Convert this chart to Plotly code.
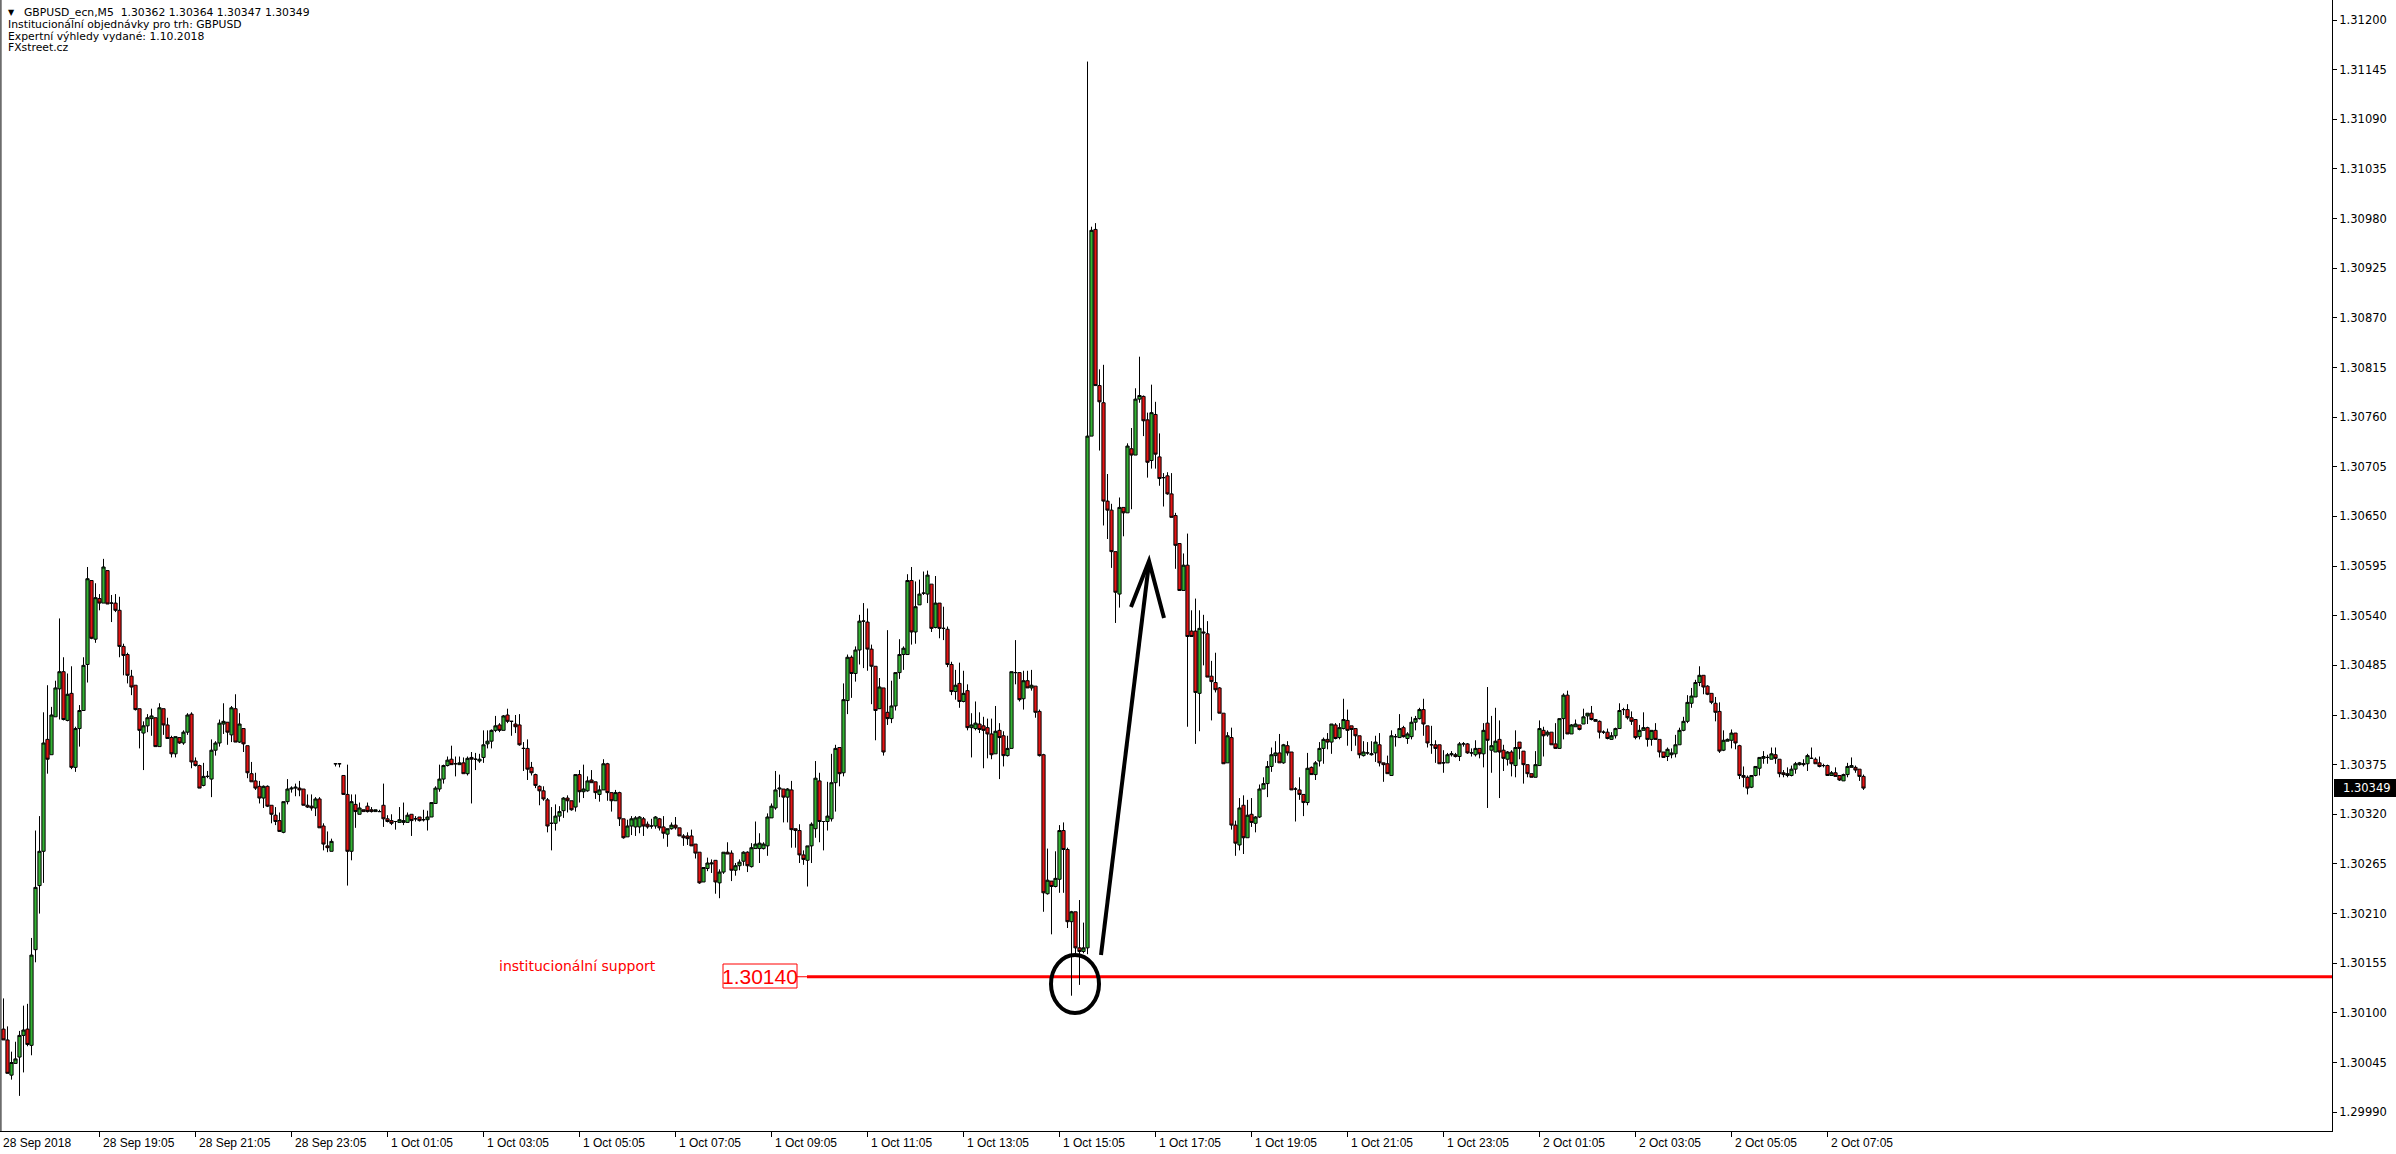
import plotly.graph_objects as go

BASE = 1.29
PT = 1e-5

# (open, high, low, close) in points above 1.29000, M5 bars
fri_bars = [
 (1082,1116,1070,1070),(1070,1085,1033,1033),(1031,1057,1026,1045),(1044,1068,1044,1049),
 (1051,1080,1008,1075),(1075,1108,1034,1081),(1082,1110,1063,1065),(1064,1183,1053,1164),
 (1170,1302,1156,1239),(1241,1318,1210,1279),(1279,1433,1244,1399),(1403,1463,1365,1381),
 (1386,1439,1386,1430),(1428,1468,1428,1460),(1459,1537,1425,1478),(1478,1494,1424,1425),
 (1424,1476,1423,1453),(1454,1484,1370,1372),(1372,1417,1367,1415),(1415,1441,1395,1435),
 (1435,1494,1435,1485),(1486,1594,1466,1581),(1579,1579,1514,1515),(1514,1576,1510,1560),
 (1559,1564,1546,1554),(1554,1603,1554,1594),(1590,1590,1553,1553),(1554,1563,1533,1554),
 (1554,1564,1544,1546),(1546,1561,1494,1506),(1506,1509,1474,1496),(1497,1499,1465,1474),
 (1473,1480,1452,1461),(1463,1463,1435,1436),(1437,1437,1393,1413),(1410,1423,1369,1418),
 (1418,1431,1411,1427),(1426,1437,1407,1429),(1427,1427,1395,1395),(1395,1443,1395,1438),
 (1437,1437,1408,1419),(1419,1427,1404,1404),(1405,1407,1383,1387),(1387,1406,1383,1406),
 (1405,1405,1398,1399),(1399,1413,1397,1411),(1411,1432,1408,1430),(1431,1433,1371,1378),
 (1379,1383,1373,1374),(1374,1375,1349,1349),(1352,1377,1351,1362),(1362,1368,1360,1362),
 (1359,1403,1339,1391),(1391,1401,1385,1399),(1399,1425,1395,1421),(1420,1443,1409,1423),
 (1422,1422,1397,1411),(1408,1440,1400,1438),(1437,1453,1400,1400),(1400,1432,1399,1420),
 (1415,1415,1389,1398),(1396,1396,1360,1366),(1365,1378,1356,1356),(1357,1366,1347,1349),
 (1351,1357,1332,1338),(1338,1352,1327,1351),(1351,1352,1328,1329),(1330,1330,1310,1320),
 (1319,1328,1308,1312),(1313,1322,1301,1301),(1300,1334,1299,1334),(1334,1359,1331,1348),
 (1348,1351,1344,1349),(1349,1354,1340,1350),(1349,1357,1340,1347),(1348,1348,1330,1330),
 (1330,1342,1327,1328),(1329,1342,1324,1327),(1327,1339,1318,1337),(1337,1339,1305,1305),
 (1307,1310,1280,1287),(1285,1301,1278,1283),(1279,1293,1279,1290),
]

mon_asia_bars = [
 (1376,1376,1373,1376),(1376,1376,1372,1376),(1363,1363,1342,1342),(1342,1375,1241,1279),
 (1279,1342,1269,1334),(1331,1342,1305,1323),(1320,1333,1320,1327),(1325,1325,1323,1323),
 (1329,1333,1322,1323),(1325,1328,1322,1323),(1323,1325,1323,1325),(1323,1325,1323,1323),
 (1330,1354,1306,1315),(1315,1319,1311,1312),(1313,1320,1308,1310),(1312,1312,1303,1312),
 (1311,1328,1311,1314),(1311,1333,1308,1313),(1311,1322,1311,1319),(1320,1320,1296,1313),
 (1315,1318,1312,1315),(1317,1317,1312,1313),(1314,1325,1312,1314),(1314,1324,1302,1317),
 (1317,1333,1317,1333),(1332,1351,1332,1349),(1348,1375,1345,1359),(1359,1375,1354,1374),
 (1374,1384,1373,1380),(1381,1396,1375,1375),(1376,1384,1362,1376),(1375,1384,1375,1377),
 (1377,1383,1365,1365),(1365,1384,1363,1382),(1383,1389,1332,1381),(1381,1388,1369,1381),
 (1379,1387,1377,1381),(1383,1413,1377,1397),(1398,1413,1393,1401),(1401,1414,1393,1413),
 (1413,1429,1411,1418),(1419,1421,1411,1413),(1413,1430,1413,1429),
]

mon_europe_bars = [
 (1430,1437,1421,1423),(1423,1423,1407,1423),(1420,1430,1410,1417),(1419,1431,1396,1397),
 (1393,1400,1368,1393),(1393,1403,1358,1370),(1372,1378,1363,1366),(1364,1365,1349,1352),
 (1351,1352,1330,1346),(1346,1351,1335,1337),(1336,1338,1300,1307),(1310,1328,1280,1310),
 (1310,1331,1302,1318),(1318,1329,1312,1323),(1324,1339,1316,1338),(1338,1341,1322,1335),
 (1335,1335,1324,1325),(1328,1364,1323,1364),(1364,1369,1333,1345),(1345,1375,1338,1348),
 (1346,1362,1345,1357),(1358,1369,1355,1355),(1356,1356,1337,1344),(1342,1352,1334,1347),
 (1347,1381,1347,1376),(1376,1377,1335,1344),(1344,1344,1323,1335),(1335,1347,1335,1344),
 (1344,1345,1307,1315),(1315,1315,1293,1294),(1295,1314,1295,1307),(1307,1318,1297,1315),
 (1306,1318,1296,1316),(1306,1318,1299,1317),(1315,1317,1296,1307),(1309,1312,1304,1306),
 (1307,1315,1304,1307),(1307,1318,1304,1317),(1315,1316,1302,1305),(1306,1318,1293,1299),
 (1298,1304,1284,1304),(1304,1311,1303,1308),(1308,1317,1303,1305),(1305,1305,1296,1296),
 (1296,1298,1285,1294),(1296,1300,1286,1293),(1296,1303,1285,1285),(1287,1287,1271,1277),
 (1278,1278,1243,1244),(1245,1261,1245,1261),(1260,1272,1257,1266),(1265,1270,1255,1266),
 (1269,1269,1232,1245),(1244,1259,1227,1256),(1256,1278,1254,1278),(1278,1289,1276,1276),
 (1277,1280,1246,1258),(1258,1266,1252,1263),(1263,1270,1258,1267),(1268,1279,1263,1278),
 (1278,1279,1256,1263),(1262,1288,1261,1283),(1282,1312,1282,1287),(1282,1299,1266,1288),
]

mon_london_bars = [
 (1282,1289,1281,1287),(1285,1321,1274,1317),(1316,1332,1316,1329),(1327,1368,1325,1347),
 (1348,1364,1339,1349),(1348,1348,1311,1339),(1339,1349,1311,1348),(1347,1357,1283,1303),
 (1304,1304,1283,1302),(1302,1309,1266,1275),(1275,1280,1264,1270),(1269,1285,1240,1285),
 (1285,1311,1266,1309),(1304,1379,1294,1360),(1357,1366,1289,1312),(1312,1312,1280,1312),
 (1312,1356,1302,1318),(1315,1387,1312,1355),(1355,1397,1323,1393),(1394,1394,1351,1365),
 (1366,1465,1362,1447),(1446,1497,1431,1494),(1494,1496,1449,1476),(1476,1506,1467,1502),
 (1502,1541,1486,1534),(1534,1554,1482,1534),(1533,1548,1479,1503),(1503,1508,1442,1484),
 (1484,1484,1402,1435),(1437,1471,1437,1461),(1460,1460,1385,1389),(1433,1524,1419,1426),
 (1426,1468,1421,1440),(1440,1477,1435,1477),(1477,1514,1470,1497),(1497,1506,1480,1504),
 (1497,1586,1497,1579),(1579,1594,1508,1522),(1522,1578,1509,1550),(1552,1580,1552,1564),
 (1565,1589,1563,1565),(1564,1590,1554,1585),(1575,1575,1522,1526),(1527,1584,1526,1554),
 (1554,1554,1515,1526),(1526,1550,1513,1526),(1525,1528,1483,1486),(1486,1489,1452,1456),
 (1456,1480,1447,1463),(1465,1488,1438,1445),(1445,1479,1444,1454),(1457,1464,1413,1416),
 (1416,1432,1383,1419),(1415,1445,1413,1421),(1420,1433,1410,1414),(1418,1428,1371,1413),
 (1416,1426,1382,1409),(1409,1426,1381,1386),(1387,1440,1387,1412),(1413,1421,1359,1405),
 (1407,1412,1373,1385),(1385,1407,1384,1393),(1393,1478,1393,1478),(1477,1513,1464,1477),
 (1477,1477,1445,1447),(1448,1479,1436,1468),(1468,1479,1460,1460),(1460,1480,1457,1463),
 (1462,1462,1427,1433),(1434,1436,1384,1385),(1386,1387,1212,1233),(1232,1282,1231,1247),
 (1246,1246,1187,1240),(1240,1279,1239,1249),(1248,1308,1233,1302),(1302,1311,1233,1281),
 (1281,1283,1194,1201),(1201,1213,1119,1212),(1212,1212,1166,1172),
]

spike_bars = [
 (1172,1225,1131,1168),(1168,1200,1166,1172),(1172,2154,1165,1739),(1739,1971,1739,1967),
 (1968,1975,1795,1795),(1795,1813,1723,1777),(1776,1818,1640,1667),(1667,1697,1625,1657),
 (1657,1664,1593,1611),(1611,1611,1532,1566),(1564,1671,1549,1660),(1660,1660,1628,1654),
 (1654,1731,1654,1728),(1725,1748,1658,1718),(1718,1792,1718,1780),(1780,1827,1776,1784),
 (1783,1784,1739,1756),(1757,1765,1693,1710),(1712,1796,1703,1765),(1763,1777,1703,1719),
 (1716,1742,1684,1692),(1693,1698,1661,1693),(1695,1699,1674,1675),(1675,1698,1649,1649),
 (1651,1654,1592,1618),(1620,1620,1568,1568),(1568,1609,1568,1596),(1596,1631,1417,1517),
 (1523,1546,1517,1517),(1523,1559,1398,1455),(1454,1546,1412,1526),(1522,1541,1485,1521),
 (1520,1534,1472,1472),(1473,1490,1424,1467),(1466,1499,1455,1458),(1460,1461,1432,1432),
 (1432,1432,1376,1376),(1377,1411,1377,1407),(1405,1416,1303,1308),(1308,1313,1274,1288),
 (1286,1338,1280,1327),(1330,1341,1276,1294),(1294,1336,1294,1319),(1320,1338,1306,1311),
 (1310,1318,1300,1317),(1317,1353,1316,1348),(1348,1361,1348,1354),(1354,1379,1339,1373),
 (1373,1394,1367,1386),(1385,1401,1377,1388),(1388,1409,1377,1377),(1377,1398,1376,1397),
 (1396,1401,1385,1388),(1389,1389,1347,1347),(1348,1350,1312,1348),(1347,1361,1336,1342),
 (1342,1342,1318,1333),(1333,1388,1330,1371),(1372,1373,1364,1364),(1364,1379,1358,1377),
 (1379,1400,1373,1393),
]

ny_bars = [
 (1393,1405,1376,1403),(1403,1410,1392,1400),(1400,1420,1387,1420),(1419,1421,1403,1404),
 (1405,1421,1403,1416),(1415,1448,1414,1425),(1424,1436,1396,1413),(1418,1418,1390,1414),
 (1415,1415,1396,1407),(1407,1407,1382,1386),(1385,1401,1384,1389),(1388,1400,1386,1388),
 (1386,1401,1385,1387),(1388,1407,1378,1400),(1397,1410,1373,1377),(1377,1377,1356,1375),
 (1376,1385,1365,1365),(1363,1413,1363,1407),(1406,1409,1395,1406),(1405,1431,1405,1415),
 (1416,1418,1405,1406),(1404,1411,1398,1409),(1406,1428,1403,1422),(1422,1429,1413,1426),
 (1426,1438,1425,1436),(1436,1448,1407,1420),(1418,1418,1394,1399),(1397,1418,1387,1397),
 (1397,1402,1377,1393),(1397,1397,1376,1376),(1377,1391,1366,1377),(1377,1388,1377,1386),
 (1386,1390,1384,1387),(1386,1388,1383,1384),(1384,1400,1379,1398),(1398,1400,1395,1398),
 (1398,1399,1387,1388),(1388,1393,1384,1388),(1386,1402,1384,1393),(1393,1393,1382,1387),
 (1387,1421,1372,1413),(1421,1461,1327,1402),(1391,1429,1366,1396),(1389,1438,1389,1401),
 (1403,1424,1338,1389),(1391,1397,1368,1382),(1381,1390,1374,1389),(1389,1391,1362,1376),
 (1374,1413,1361,1394),(1400,1400,1381,1393),(1390,1390,1354,1375),(1375,1375,1361,1365),
 (1365,1365,1361,1361),(1361,1390,1361,1375),(1374,1424,1374,1415),(1413,1417,1384,1407),
 (1408,1413,1406,1411),(1411,1411,1397,1397),(1398,1421,1393,1393),(1393,1426,1393,1426),
 (1426,1454,1403,1452),(1452,1457,1409,1409),(1409,1420,1409,1419),(1417,1425,1417,1420),
 (1419,1419,1413,1414),(1420,1437,1420,1428),(1429,1432,1420,1432),(1432,1440,1424,1425),
 (1425,1425,1423,1423),(1423,1424,1404,1411),
]

tue_bars = [
 (1411,1413,1409,1411),(1411,1415,1403,1404),(1403,1411,1403,1407),(1407,1416,1404,1415),
 (1415,1443,1415,1435),(1436,1438,1430,1436),(1436,1442,1425,1427),(1427,1434,1419,1423),
 (1425,1425,1403,1405),(1406,1419,1403,1413),(1413,1433,1413,1416),(1416,1417,1395,1403),
 (1403,1413,1396,1413),(1413,1421,1403,1403),(1403,1403,1383,1389),(1389,1389,1383,1383),
 (1384,1394,1379,1392),(1386,1393,1382,1388),(1387,1408,1383,1397),(1397,1416,1397,1413),
 (1413,1428,1412,1423),(1423,1452,1421,1444),(1443,1460,1438,1451),(1450,1469,1450,1466),
 (1466,1484,1462,1474),(1474,1474,1453,1461),(1462,1463,1452,1453),(1454,1454,1442,1444),
 (1443,1450,1423,1433),(1434,1444,1388,1390),(1391,1413,1390,1402),(1401,1404,1401,1403),
 (1402,1414,1393,1410),(1410,1410,1392,1399),(1396,1397,1359,1363),(1363,1373,1350,1361),
 (1361,1363,1342,1349),(1350,1363,1349,1363),(1363,1373,1362,1373),(1371,1383,1363,1383),
 (1382,1390,1376,1384),(1383,1386,1376,1383),(1381,1394,1381,1387),(1386,1394,1376,1382),
 (1381,1381,1361,1365),(1366,1369,1361,1364),(1363,1372,1361,1365),(1363,1374,1362,1370),
 (1370,1378,1365,1376),(1375,1378,1374,1377),(1375,1381,1373,1376),(1376,1387,1368,1385),
 (1382,1394,1382,1382),(1381,1383,1376,1376),(1377,1384,1372,1373),(1374,1376,1372,1374),
 (1374,1375,1363,1363),(1363,1368,1363,1366),(1366,1372,1362,1362),(1363,1363,1357,1358),
 (1357,1365,1357,1364),(1364,1377,1361,1373),(1372,1383,1372,1374),(1372,1374,1366,1369),
 (1370,1370,1357,1362),(1362,1364,1347,1349),
]

# time-axis labels and the bar index each one falls on
x_label_first = "28 Sep 2018"
x_tick_labels = ["28 Sep 19:05", "28 Sep 21:05", "28 Sep 23:05", "1 Oct 01:05", "1 Oct 03:05",
                 "1 Oct 05:05", "1 Oct 07:05", "1 Oct 09:05", "1 Oct 11:05", "1 Oct 13:05",
                 "1 Oct 15:05", "1 Oct 17:05", "1 Oct 19:05", "1 Oct 21:05", "1 Oct 23:05",
                 "2 Oct 01:05", "2 Oct 03:05", "2 Oct 05:05", "2 Oct 07:05"]
x_tick_bars = [24, 48, 72, 96, 120, 144, 168, 192, 216, 240, 264, 288, 312, 336, 360,
               384, 408, 432, 456]

y_tick_labels = ["1.29990", "1.30045", "1.30100", "1.30155", "1.30210", "1.30265", "1.30320",
                 "1.30375", "1.30430", "1.30485", "1.30540", "1.30595", "1.30650", "1.30705",
                 "1.30760", "1.30815", "1.30870", "1.30925", "1.30980", "1.31035", "1.31090",
                 "1.31145", "1.31200"]

support_level = 1.30140
last_price = 1.30349
header_lines = ["GBPUSD_ecn,M5\u00a0 1.30362 1.30364 1.30347 1.30349",
                "Institucionální objednávky pro trh: GBPUSD",
                "Expertní výhledy vydané: 1.10.2018",
                "FXstreet.cz"]

# ---------------------------------------------------------------
bars = [b for seg in (fri_bars, mon_asia_bars, mon_europe_bars, mon_london_bars,
                      spike_bars, ny_bars, tue_bars) for b in seg]
opens = [round(BASE + b[0] * PT, 5) for b in bars]
closes = [round(BASE + b[3] * PT, 5) for b in bars]
highs = [round(BASE + max(b) * PT, 5) for b in bars]
lows = [round(BASE + min(b) * PT, 5) for b in bars]
xs = list(range(len(bars)))

W, H = 2396, 1154
ML, MR, MT, MB = 0, 64, 0, 23
PW, PH = W - ML - MR, H - MT - MB  # 2332 x 1131

X0 = -0.875
X1 = X0 + PW / 4.0
Y_TOP = BASE + 2222.2 * PT
Y_BOT = BASE + 969.1 * PT


def px_to_x(px):
    return X0 + px / 4.0


def py_to_y(py):
    return Y_TOP - (Y_TOP - Y_BOT) * py / PH


GREEN = "#33b233"
RED = "#e51414"

fig = go.Figure()
fig.add_trace(go.Candlestick(
    x=xs, open=opens, high=highs, low=lows, close=closes,
    increasing=dict(fillcolor=GREEN, line=dict(color="black", width=1)),
    decreasing=dict(fillcolor=RED, line=dict(color="black", width=1)),
    whiskerwidth=0, showlegend=False, hoverinfo="x+y",
))

shapes = []
# left border
shapes.append(dict(type="line", xref="paper", yref="paper", x0=0.0004, x1=0.0004, y0=0, y1=1,
                   line=dict(color="black", width=1)))
# support line
shapes.append(dict(type="line", xref="x", yref="y", x0=px_to_x(807), x1=X1,
                   y0=support_level, y1=support_level, line=dict(color="#ff0000", width=3),
                   layer="below"))
shapes.append(dict(type="line", xref="x", yref="y", x0=px_to_x(797), x1=px_to_x(807),
                   y0=support_level, y1=support_level, line=dict(color="#ff0000", width=1)))
# price label box
shapes.append(dict(type="rect", xref="x", yref="y", x0=px_to_x(723), x1=px_to_x(797),
                   y0=py_to_y(988), y1=py_to_y(964), line=dict(color="#ff0000", width=1),
                   fillcolor="white"))
# circle around the low
shapes.append(dict(type="circle", xref="x", yref="y", x0=px_to_x(1051), x1=px_to_x(1099),
                   y0=py_to_y(1013), y1=py_to_y(955), line=dict(color="black", width=4)))
# arrow
shapes.append(dict(type="line", xref="x", yref="y", x0=px_to_x(1101), y0=py_to_y(955),
                   x1=px_to_x(1149), y1=py_to_y(563), line=dict(color="black", width=4)))
ax, ay = px_to_x(1131), py_to_y(607)
tx, ty = px_to_x(1149), py_to_y(561)
bx, by = px_to_x(1164), py_to_y(618)
shapes.append(dict(type="path", xref="x", yref="y",
                   path=f"M {ax},{ay} L {tx},{ty} L {bx},{by}",
                   line=dict(color="black", width=4)))
# last-price box on the axis
shapes.append(dict(type="rect", xref="paper", yref="y", x0=2334 / PW, x1=W / PW,
                   y0=py_to_y(797), y1=py_to_y(779), line=dict(width=0), fillcolor="black"))

ann = []
FONT_UI = "DejaVu Sans"
FONT_X = "Liberation Sans"
# header
ann.append(dict(xref="paper", yref="paper", x=6 / PW, y=1 - 12.5 / PH, xanchor="left",
                yanchor="middle", text="▼", showarrow=False,
                font=dict(family=FONT_UI, size=8, color="black")))
for k, (line, cy) in enumerate(zip(header_lines, [13, 24.5, 36, 47.5])):
    ann.append(dict(xref="paper", yref="paper", x=(22 if k == 0 else 6) / PW, y=1 - cy / PH,
                    xanchor="left", yanchor="middle", text=line, showarrow=False,
                    font=dict(family=FONT_UI, size=10.8, color="black")))
# support text
ann.append(dict(xref="x", yref="y", x=px_to_x(577), y=py_to_y(966), text="institucionální support",
                showarrow=False, xanchor="center", yanchor="middle",
                font=dict(family=FONT_UI, size=14, color="#ff0000")))
ann.append(dict(xref="x", yref="y", x=px_to_x(760), y=support_level, text="1.30140",
                showarrow=False, xanchor="center", yanchor="middle",
                font=dict(family="Liberation Sans", size=21, color="#ff0000")))
# last price text
ann.append(dict(xref="paper", yref="y", x=2341 / PW, y=last_price, text=f"{last_price:.5f}",
                showarrow=False, xanchor="left", yanchor="middle",
                font=dict(family=FONT_UI, size=11.5, color="white")))
# time labels
ann.append(dict(xref="paper", yref="paper", x=0, y=0, xanchor="left", yanchor="top", xshift=1,
                yshift=-3, text=x_label_first, showarrow=False,
                font=dict(family=FONT_X, size=12, color="black")))
for b, lab in zip(x_tick_bars, x_tick_labels):
    ann.append(dict(xref="x", yref="paper", x=b, y=0, xanchor="left", yanchor="top", xshift=1,
                    yshift=-3, text=lab, showarrow=False,
                    font=dict(family=FONT_X, size=12, color="black")))

fig.update_layout(
    width=W, height=H,
    margin=dict(l=ML, r=MR, t=MT, b=MB, pad=0),
    paper_bgcolor="white", plot_bgcolor="white",
    showlegend=False, boxgap=0.2, boxgroupgap=0,
    shapes=shapes, annotations=ann,
    xaxis=dict(range=[X0, X1], showgrid=False, zeroline=False, showline=True,
               linecolor="black", linewidth=1, ticks="outside", ticklen=5, tickcolor="black",
               tickvals=x_tick_bars, showticklabels=False, rangeslider=dict(visible=False),
               fixedrange=True),
    yaxis=dict(range=[Y_BOT, Y_TOP], side="right", showgrid=False, zeroline=False,
               showline=True, linecolor="black", linewidth=1, ticks="outside", ticklen=4,
               tickcolor="black", tickvals=[float(v) for v in y_tick_labels],
               ticktext=y_tick_labels, tickfont=dict(family=FONT_UI, size=11.5, color="black"),
               fixedrange=True),
)

fig.write_html("out.html", config={"displayModeBar": False},
               post_script="document.body.style.margin='0px';")
